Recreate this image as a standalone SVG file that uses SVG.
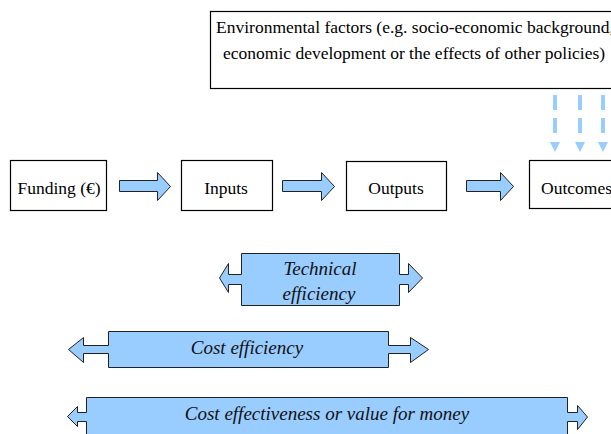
<svg xmlns="http://www.w3.org/2000/svg" width="611" height="434" viewBox="0 0 611 434">
<style>
.box{fill:#fff;stroke:#000;stroke-width:1.2}
.arr{fill:#99ccff;stroke:#222;stroke-width:1;stroke-linejoin:miter}
.dash{stroke:#99ccff;stroke-width:4;stroke-dasharray:15 8;fill:none}
.tri{fill:#99ccff}
.lbl{font-family:'Liberation Serif','Times New Roman',serif;font-size:17.5px;fill:#000}
.it{font-family:'Liberation Serif','Times New Roman',serif;font-size:19px;font-style:italic;fill:#111}
</style>
<rect width="611" height="434" fill="#fff"/>
<g id="env">
<rect class="box" x="210.5" y="11.5" width="440" height="77"/>
<text class="lbl" x="216" y="33">Environmental factors (e.g. socio-economic background,</text>
<text class="lbl" x="223" y="59">economic development or the effects of other policies)</text>
</g>
<g id="funding">
<rect class="box" x="10.5" y="160.5" width="96" height="50"/>
<text class="lbl" x="59" y="194" text-anchor="middle">Funding (€)</text>
</g>
<g id="inputs">
<rect class="box" x="181.5" y="160.5" width="91" height="50"/>
<text class="lbl" x="226" y="194" text-anchor="middle">Inputs</text>
</g>
<g id="outputs">
<rect class="box" x="346.5" y="161.5" width="100" height="49"/>
<text class="lbl" x="396" y="194" text-anchor="middle">Outputs</text>
</g>
<g id="outcomes">
<rect class="box" x="529.5" y="160.5" width="100" height="48"/>
<text class="lbl" x="541" y="194">Outcomes</text>
</g>
<g id="connectors">
<path class="arr" d="M119.5,180.5 H157.5 V172.5 L170.5,186.5 L157.5,200.5 V191.5 H119.5 Z"/>
<path class="arr" d="M282.5,180.5 H321.5 V172.5 L334.5,186.5 L321.5,200.5 V191.5 H282.5 Z"/>
<path class="arr" d="M466.5,180.5 H500.5 V172.5 L513.5,186.5 L500.5,200.5 V191.5 H466.5 Z"/>
<line class="dash" x1="555" y1="95" x2="555" y2="140"/>
<line class="dash" x1="580" y1="95" x2="580" y2="140"/>
<line class="dash" x1="603" y1="95" x2="603" y2="140"/>
<path class="tri" d="M550,142 H560 L555,152 Z"/>
<path class="tri" d="M575,142 H585 L580,152 Z"/>
<path class="tri" d="M598,142 H608 L603,152 Z"/>
</g>
<g id="technical">
<path class="arr" d="M241.5,253.5 H399.5 V274.5 H408.5 V263.5 L422.5,278 L408.5,292.5 V284.5 H399.5 V305.5 H241.5 V284.5 H228.5 V292.5 L219.5,278 L228.5,263.5 V274.5 H241.5 Z"/>
<text class="it" x="320" y="275" text-anchor="middle">Technical</text>
<text class="it" x="319" y="300" text-anchor="middle">efficiency</text>
</g>
<g id="costeff">
<path class="arr" d="M108.5,331.5 H388.5 V345.5 H410.5 V337.5 L428.5,349.5 L410.5,362.5 V353.5 H388.5 V367.5 H108.5 V353.5 H83.5 V362.5 L68.5,349.5 L83.5,337.5 V345.5 H108.5 Z"/>
<text class="it" x="247" y="354" text-anchor="middle">Cost efficiency</text>
</g>
<g id="costeffect">
<path class="arr" d="M86.5,397.5 H567.5 V412.5 H577.5 V405.5 L587.5,417 L577.5,429.5 V421.5 H567.5 V440 H86.5 V421.5 H77.5 V426.5 L67.5,416.5 L77.5,406.5 V412.5 H86.5 Z"/>
<text class="it" x="327" y="420" text-anchor="middle">Cost effectiveness or value for money</text>
</g>
</svg>
